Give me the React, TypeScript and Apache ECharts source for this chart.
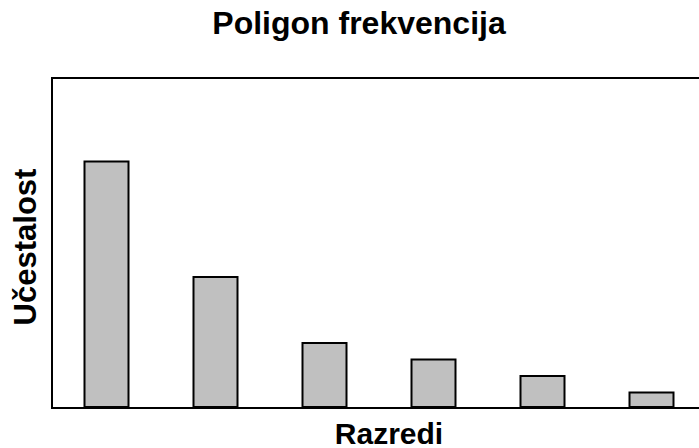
import React, { useEffect, useRef } from "react";
import * as echarts from "echarts";

const categories = ["1", "2", "3", "4", "5", "6"];
const frequencies = [15, 8, 4, 3, 2, 1];
const yMax = 20;

export default function App() {
  const ref = useRef<HTMLDivElement>(null);
  useEffect(() => {
    if (!ref.current) return;
    const chart = echarts.init(ref.current, null, { renderer: "svg" });
    const font = "'Liberation Sans', Arial, sans-serif";
    const textStyle = {
      fontWeight: "bold",
      fontFamily: font,
      fill: "#000",
      align: "center",
      verticalAlign: "middle",
    };
    chart.setOption({
      animation: false,
      backgroundColor: "#ffffff",
      grid: {
        left: 52,
        top: 78,
        width: 654,
        height: 330,
        show: true,
        borderColor: "#000000",
        borderWidth: 2,
        backgroundColor: "transparent",
        outerBoundsMode: "none",
        containLabel: false,
      },
      xAxis: {
        type: "category",
        data: categories,
        axisLine: { show: true, lineStyle: { color: "#000", width: 2 } },
        axisTick: { show: false },
        axisLabel: { show: false },
        splitLine: { show: false },
      },
      yAxis: {
        type: "value",
        min: 0,
        max: yMax,
        axisLine: { show: true, lineStyle: { color: "#000", width: 2 } },
        axisTick: { show: false },
        axisLabel: { show: false },
        splitLine: { show: false },
      },
      series: [
        {
          type: "bar",
          data: frequencies,
          barWidth: 46,
          itemStyle: { color: "#c0c0c0", borderColor: "#000000", borderWidth: 2 },
        },
      ],
      graphic: [
        {
          type: "text",
          x: 359,
          y: 23,
          style: { ...textStyle, fontSize: 32, text: "Poligon frekvencija" },
        },
        {
          type: "text",
          x: 389,
          y: 433,
          style: { ...textStyle, fontSize: 30, text: "Razredi" },
        },
        {
          type: "text",
          x: 25,
          y: 247,
          rotation: Math.PI / 2,
          style: { ...textStyle, fontSize: 31, text: "Učestalost" },
        },
      ],
    });
    return () => chart.dispose();
  }, []);
  return (
    <div
      ref={ref}
      style={{ position: "absolute", left: 0, top: 0, width: 699, height: 448 }}
    />
  );
}
